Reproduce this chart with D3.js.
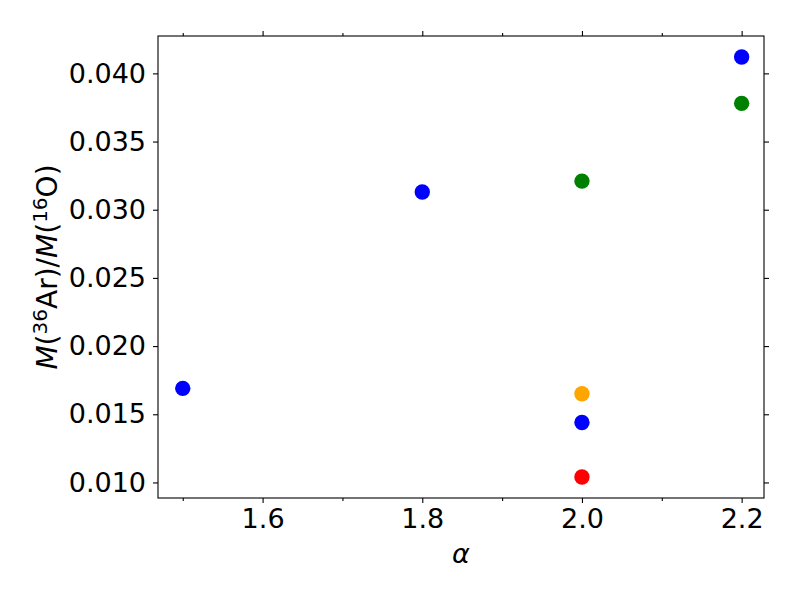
<!DOCTYPE html>
<html>
<head>
<meta charset="utf-8">
<script src="https://cdn.jsdelivr.net/npm/d3@7"></script>
<style>
  body { margin: 0; background: #fff; }
  svg { font-family: "DejaVu Sans", sans-serif; }
</style>
</head>
<body>
<div id="chart"></div>
<script>
// valores
const alphaValues = [1.5, 1.8, 2.0, 2.0, 2.0, 2.0, 2.2, 2.2];
const ratioValues = [0.0169, 0.0313, 0.0321, 0.0165, 0.0144, 0.0104, 0.0412, 0.0378];
const pointColors = ["#0000ff", "#0000ff", "#008000", "#ffa500", "#0000ff", "#ff0000", "#0000ff", "#008000"];
const xLimits = [1.469, 2.228];
const xTicks = [1.6, 1.8, 2.0, 2.2];
const xMinorTicks = [1.5, 1.7, 1.9, 2.1];
const yTicks = [0.010, 0.015, 0.020, 0.025, 0.030, 0.035, 0.040];

const points = alphaValues.map((a, i) => ({ alpha: a, ratio: ratioValues[i], color: pointColors[i] }));

const width = 800, height = 600;
const margin = { top: 36, right: 36, bottom: 102, left: 158 };
const w = width - margin.left - margin.right;
const h = height - margin.top - margin.bottom;
const fontSize = 27;

const svg = d3.select("#chart").append("svg")
    .attr("width", width)
    .attr("height", height);

const g = svg.append("g")
    .attr("transform", `translate(${margin.left},${margin.top})`);

// margen de 5% en y como matplotlib
const yExt = d3.extent(ratioValues);
const yPad = (yExt[1] - yExt[0]) * 0.05;

const x = d3.scaleLinear().domain(xLimits).range([0, w]);
const y = d3.scaleLinear().domain([yExt[0] - yPad, yExt[1] + yPad]).range([h, 0]);

const fmtX = d3.format(".1f"), fmtY = d3.format(".3f");

function styleAxis(sel) {
    sel.select(".domain").remove();
    sel.selectAll("line").attr("stroke", "#000").attr("stroke-width", 1.1);
    sel.selectAll("text").attr("fill", "#000").style("font-size", fontSize + "px")
        .style("font-family", "DejaVu Sans, sans-serif");
}

// ejes principales
g.append("g").attr("transform", `translate(0,${h})`)
    .call(d3.axisBottom(x).tickValues(xTicks).tickFormat(fmtX).tickSize(5).tickPadding(6))
    .call(styleAxis);
g.append("g").attr("transform", `translate(0,${h})`)
    .call(d3.axisBottom(x).tickValues(xMinorTicks).tickFormat("").tickSize(3))
    .call(styleAxis);
g.append("g")
    .call(d3.axisTop(x).tickValues(xTicks).tickFormat("").tickSize(5))
    .call(styleAxis);
g.append("g")
    .call(d3.axisTop(x).tickValues(xMinorTicks).tickFormat("").tickSize(3))
    .call(styleAxis);
g.append("g")
    .call(d3.axisLeft(y).tickValues(yTicks).tickFormat(fmtY).tickSize(5).tickPadding(7))
    .call(styleAxis);
g.append("g").attr("transform", `translate(${w},0)`)
    .call(d3.axisRight(y).tickValues(yTicks).tickFormat("").tickSize(5))
    .call(styleAxis);

// marco
g.append("rect")
    .attr("width", w).attr("height", h)
    .attr("fill", "none").attr("stroke", "#000").attr("stroke-width", 1.1);

// puntos
g.selectAll(".pt")
    .data(points)
    .enter()
    .append("circle")
    .attr("class", "pt")
    .attr("cx", d => x(d.alpha))
    .attr("cy", d => y(d.ratio))
    .attr("r", 7.7)
    .attr("fill", d => d.color);

// etiqueta eje X
svg.append("text")
    .attr("x", margin.left + w / 2)
    .attr("y", 563)
    .attr("text-anchor", "middle")
    .style("font-size", fontSize + "px")
    .style("font-style", "italic")
    .text("α");

// etiqueta eje Y
const labelSize = 28;
const supSize = Math.round(labelSize * 0.7);
const yl = svg.append("text")
    .attr("transform", `translate(57,${margin.top + h / 2}) rotate(-90)`)
    .attr("text-anchor", "middle")
    .style("font-size", labelSize + "px");
yl.append("tspan").style("font-style", "italic").text("M");
yl.append("tspan").text("(");
yl.append("tspan").attr("dy", -10).style("font-size", supSize + "px").text("36");
yl.append("tspan").attr("dy", 10).text("Ar)/");
yl.append("tspan").style("font-style", "italic").text("M");
yl.append("tspan").text("(");
yl.append("tspan").attr("dy", -10).style("font-size", supSize + "px").text("16");
yl.append("tspan").attr("dy", 10).text("O)");
</script>
</body>
</html>
